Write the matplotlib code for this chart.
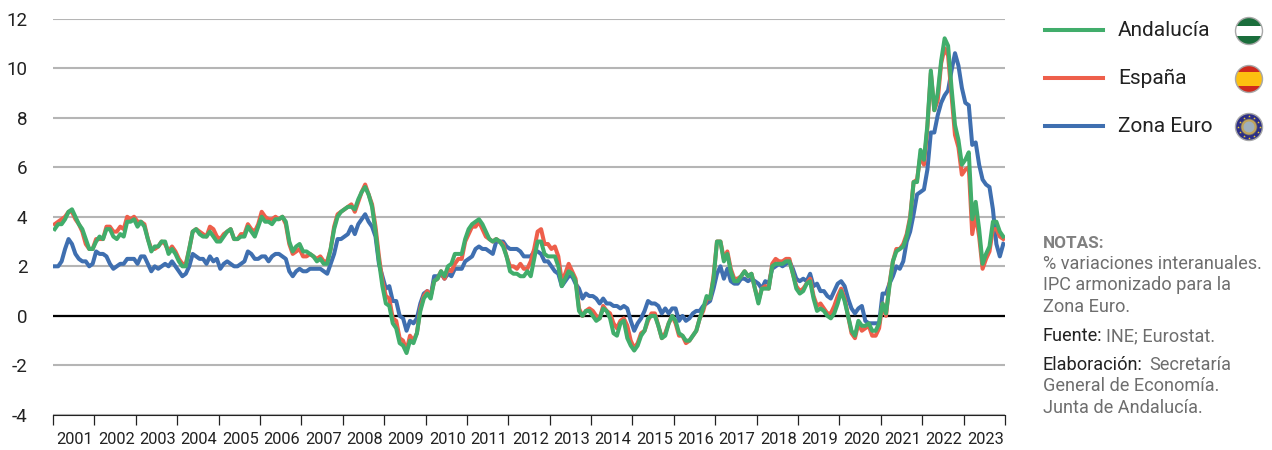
import matplotlib
matplotlib.use('Agg')
import matplotlib.pyplot as plt
import numpy as np
from matplotlib.patches import Circle, Rectangle

plt.rcParams['font.family'] = ['Roboto', 'DejaVu Sans']

years = list(range(2001, 2024))

andalucia = [
    3.5, 3.7, 3.7, 3.9, 4.2, 4.3, 4.0, 3.7, 3.5, 3.1, 2.7, 2.7,
    3.0, 3.2, 3.1, 3.5, 3.5, 3.2, 3.1, 3.3, 3.2, 3.8, 3.8, 3.9,
    3.6, 3.8, 3.6, 3.1, 2.6, 2.8, 2.8, 3.0, 3.0, 2.5, 2.7, 2.5,
    2.2, 2.0, 2.0, 2.7, 3.4, 3.5, 3.3, 3.2, 3.2, 3.4, 3.2, 3.0,
    3.0, 3.2, 3.4, 3.5, 3.1, 3.1, 3.2, 3.2, 3.6, 3.4, 3.2, 3.6,
    4.0, 3.8, 3.8, 3.7, 3.9, 3.9, 4.0, 3.8, 3.0, 2.6, 2.8, 2.9,
    2.6, 2.6, 2.5, 2.4, 2.2, 2.3, 2.1, 2.1, 2.7, 3.5, 4.0, 4.2,
    4.3, 4.4, 4.4, 4.3, 4.7, 5.0, 5.2, 4.9, 4.4, 3.4, 2.2, 1.2,
    0.5, 0.4, -0.3, -0.5, -1.1, -1.2, -1.5, -1.0, -1.1, -0.7, 0.2, 0.7,
    0.9, 0.7, 1.4, 1.5, 1.8, 1.6, 2.0, 2.1, 2.5, 2.5, 2.5, 3.1,
    3.5, 3.7, 3.8, 3.9, 3.7, 3.4, 3.1, 3.0, 3.1, 3.0, 2.8, 2.4,
    1.8, 1.7, 1.7, 1.6, 1.6, 1.8, 1.6, 2.3, 3.0, 3.0, 2.5, 2.4,
    2.4, 2.4, 2.0, 1.2, 1.5, 1.8, 1.7, 1.4, 0.2, 0.0, 0.2, 0.2,
    0.0, -0.2, -0.1, 0.3, 0.2, -0.1, -0.7, -0.8, -0.3, -0.2, -0.9, -1.2,
    -1.4, -1.2, -0.8, -0.6, -0.1, 0.0, 0.0, -0.4, -0.9, -0.8, -0.3, 0.0,
    -0.2, -0.7, -0.8, -1.0, -1.0, -0.8, -0.6, -0.1, 0.3, 0.8, 0.7, 1.5,
    3.0, 3.0, 2.2, 2.5, 1.8, 1.4, 1.4, 1.6, 1.8, 1.6, 1.7, 1.1,
    0.5, 1.1, 1.1, 1.1, 2.0, 2.1, 2.1, 2.1, 2.2, 2.2, 1.7, 1.1,
    0.9, 1.0, 1.3, 1.4, 0.7, 0.2, 0.3, 0.2, 0.0, -0.1, 0.1, 0.5,
    1.0, 0.6, 0.0, -0.6, -0.8, -0.2, -0.4, -0.4, -0.3, -0.6, -0.6, -0.3,
    0.5, 0.1, 1.2, 2.2, 2.6, 2.7, 2.8, 3.2, 3.9, 5.4, 5.4, 6.7,
    6.3, 7.7, 9.9, 8.3, 9.0, 10.3, 11.2, 10.9, 9.2, 7.7, 7.1, 6.1,
    6.3, 6.6, 3.9, 4.6, 3.5, 2.1, 2.5, 2.8, 3.8, 3.8, 3.4, 3.2,
]

espana = [
    3.7, 3.8, 3.9, 4.0, 4.2, 4.2, 3.9, 3.7, 3.4, 2.9, 2.7, 2.7,
    3.1, 3.1, 3.1, 3.6, 3.6, 3.4, 3.4, 3.6, 3.5, 4.0, 3.9, 4.0,
    3.8, 3.8, 3.7, 3.1, 2.7, 2.7, 2.8, 3.0, 2.9, 2.6, 2.8, 2.6,
    2.3, 2.1, 2.1, 2.7, 3.4, 3.5, 3.4, 3.3, 3.2, 3.6, 3.5, 3.2,
    3.1, 3.3, 3.4, 3.5, 3.1, 3.1, 3.3, 3.3, 3.7, 3.5, 3.4, 3.7,
    4.2, 4.0, 3.9, 3.9, 4.0, 3.9, 4.0, 3.7, 2.9, 2.5, 2.6, 2.7,
    2.4, 2.4, 2.5, 2.4, 2.3, 2.4, 2.2, 2.2, 2.7, 3.6, 4.1, 4.2,
    4.3, 4.4, 4.5, 4.2, 4.6, 5.0, 5.3, 4.9, 4.5, 3.6, 2.4, 1.4,
    0.8, 0.7, -0.1, -0.2, -0.9, -1.0, -1.4, -0.8, -1.0, -0.7, 0.3, 0.8,
    1.0, 0.8, 1.4, 1.5, 1.8, 1.5, 1.9, 1.8, 2.1, 2.3, 2.3, 3.0,
    3.3, 3.6, 3.6, 3.8, 3.5, 3.2, 3.1, 3.0, 3.1, 3.0, 2.9, 2.4,
    2.0, 2.0, 1.9, 2.1, 1.9, 1.9, 2.2, 2.7, 3.4, 3.5, 2.9, 2.9,
    2.7, 2.8, 2.4, 1.4, 1.7, 2.1, 1.8, 1.5, 0.3, 0.0, 0.2, 0.3,
    0.2, 0.0, -0.1, 0.4, 0.2, 0.1, -0.3, -0.5, -0.2, -0.1, -0.4, -1.0,
    -1.3, -1.1, -0.7, -0.6, -0.2, 0.1, 0.1, -0.4, -0.9, -0.7, -0.3, 0.0,
    -0.3, -0.8, -0.8, -1.1, -1.0, -0.8, -0.6, -0.1, 0.2, 0.7, 0.7, 1.6,
    3.0, 3.0, 2.3, 2.6, 1.9, 1.5, 1.5, 1.6, 1.8, 1.6, 1.7, 1.1,
    0.6, 1.1, 1.2, 1.1, 2.1, 2.3, 2.2, 2.2, 2.3, 2.3, 1.7, 1.2,
    1.0, 1.1, 1.3, 1.5, 0.8, 0.4, 0.5, 0.3, 0.1, 0.1, 0.4, 0.8,
    1.1, 0.7, 0.0, -0.7, -0.9, -0.3, -0.6, -0.5, -0.4, -0.8, -0.8, -0.5,
    0.5, 0.0, 1.3, 2.2, 2.7, 2.7, 2.9, 3.3, 4.0, 5.4, 5.5, 6.5,
    6.1, 7.6, 9.8, 8.3, 8.7, 10.2, 10.8, 10.5, 8.9, 7.3, 6.8, 5.7,
    5.9, 6.0, 3.3, 4.1, 3.2, 1.9, 2.3, 2.6, 3.5, 3.5, 3.2, 3.1,
]

zona_euro = [
    2.0, 2.0, 2.2, 2.7, 3.1, 2.9, 2.5, 2.3, 2.2, 2.2, 2.0, 2.1,
    2.6, 2.5, 2.5, 2.4, 2.1, 1.9, 2.0, 2.1, 2.1, 2.3, 2.3, 2.3,
    2.1, 2.4, 2.4, 2.1, 1.8, 2.0, 1.9, 2.0, 2.1, 2.0, 2.2, 2.0,
    1.8, 1.6, 1.7, 2.0, 2.5, 2.4, 2.3, 2.3, 2.1, 2.4, 2.2, 2.3,
    1.9, 2.1, 2.2, 2.1, 2.0, 2.0, 2.1, 2.2, 2.6, 2.5, 2.3, 2.3,
    2.4, 2.4, 2.2, 2.4, 2.5, 2.5, 2.4, 2.3, 1.8, 1.6, 1.8, 1.9,
    1.8, 1.8, 1.9, 1.9, 1.9, 1.9, 1.8, 1.7, 2.1, 2.5, 3.1, 3.1,
    3.2, 3.3, 3.6, 3.3, 3.7, 3.9, 4.1, 3.8, 3.6, 3.2, 2.1, 1.6,
    1.1, 1.2, 0.6, 0.6, 0.0, -0.1, -0.6, -0.2, -0.3, -0.1, 0.5, 0.9,
    1.0, 0.8, 1.6, 1.6, 1.7, 1.5, 1.7, 1.6, 1.9, 1.9, 1.9, 2.2,
    2.3, 2.4, 2.7, 2.8, 2.7, 2.7, 2.6, 2.5, 3.0, 3.0, 3.0, 2.8,
    2.7, 2.7, 2.7, 2.6, 2.4, 2.4, 2.4, 2.6, 2.6, 2.5, 2.2, 2.2,
    2.0, 1.8, 1.7, 1.2, 1.4, 1.6, 1.6, 1.3, 1.1, 0.7, 0.9, 0.8,
    0.8, 0.7, 0.5, 0.7, 0.5, 0.5, 0.4, 0.4, 0.3, 0.4, 0.3, -0.2,
    -0.6, -0.3, -0.1, 0.2, 0.6, 0.5, 0.5, 0.4, 0.1, 0.3, 0.1, 0.3,
    0.3, -0.2, 0.0, -0.2, -0.1, 0.1, 0.2, 0.2, 0.4, 0.5, 0.6, 1.1,
    1.7, 2.0, 1.5, 1.9, 1.4, 1.3, 1.3, 1.5, 1.5, 1.4, 1.5, 1.4,
    1.3, 1.1, 1.4, 1.3, 1.9, 2.0, 2.1, 2.0, 2.1, 2.2, 1.9, 1.5,
    1.4, 1.5, 1.4, 1.7, 1.2, 1.3, 1.0, 1.0, 0.8, 0.7, 1.0, 1.3,
    1.4, 1.2, 0.7, 0.3, 0.1, 0.3, 0.4, -0.2, -0.3, -0.3, -0.3, -0.3,
    0.9, 0.9, 1.3, 1.6, 2.0, 1.9, 2.2, 3.0, 3.4, 4.1, 4.9, 5.0,
    5.1, 5.9, 7.4, 7.4, 8.1, 8.6, 8.9, 9.1, 9.9, 10.6, 10.1, 9.2,
    8.6, 8.5, 6.9, 7.0, 6.1, 5.5, 5.3, 5.2, 4.3, 2.9, 2.4, 2.9,
]

green = '#41ad6b'
red = '#ee5f4b'
blue = '#3f6fb0'

W, H = 1272, 450


def fx(px):
    return px / W


def fy(py):
    return 1 - py / H


fig = plt.figure(figsize=(W / 100, H / 100), dpi=100)
ax = fig.add_axes([fx(53), fy(415), (1005 - 53) / W, (415 - 18.5) / H])

x = np.arange(len(andalucia)) + 0.5
ax.plot(x, zona_euro, color=blue, lw=2.9, zorder=3, solid_joinstyle='round')
ax.plot(x, espana, color=red, lw=2.9, zorder=4, solid_joinstyle='round')
ax.plot(x, andalucia, color=green, lw=2.9, zorder=5, solid_joinstyle='round')

ax.set_xlim(0, len(andalucia))
ax.set_ylim(-4, 12)
ax.set_yticks(range(-4, 13, 2))
ax.set_yticklabels([str(v) for v in range(-4, 13, 2)], fontsize=13.5, color='#222222')
ax.tick_params(axis='y', length=0, pad=18.5)
ax.grid(axis='y', color='#b5b5b5', lw=1.5)
ax.set_axisbelow(True)
ax.axhline(0, color='black', lw=1.6, zorder=2.5)

for s in ['top', 'left', 'right']:
    ax.spines[s].set_visible(False)
ax.spines['bottom'].set_color('#222222')
ax.spines['bottom'].set_linewidth(0.8)

ax.set_xticks(np.arange(0, len(andalucia) + 1, 12))
ax.set_xticklabels([])
ax.set_xticks(np.arange(6, len(andalucia), 12) + 0.35, minor=True)
ax.set_xticklabels([str(y) for y in years], minor=True, fontsize=11.8, color='#222222')
ax.tick_params(axis='x', which='major', length=7, width=0.9, color='#222222')
ax.tick_params(axis='x', which='minor', length=0, pad=12)

# leyenda
legend_items = [('Andalucía', green, 30), ('España', red, 78), ('Zona Euro', blue, 126)]
for name, col, py in legend_items:
    fig.add_artist(plt.Line2D([fx(1045), fx(1103)], [fy(py), fy(py)], color=col, lw=2.9,
                              transform=fig.transFigure))
    fig.text(fx(1118), fy(py + 0.5), name, fontsize=15, color='#222222', va='center', ha='left')

# banderas
iconax = fig.add_axes([0, 0, 1, 1], facecolor='none')
iconax.set_xlim(0, W)
iconax.set_ylim(H, 0)
iconax.axis('off')


def flag(cy, colors, bands):
    clip = Circle((1249, cy), 13.5, transform=iconax.transData)
    top = cy - 13.5
    for col, h in zip(colors, bands):
        r = Rectangle((1235, top), 28, h, color=col, lw=0)
        iconax.add_patch(r)
        r.set_clip_path(clip)
        top += h
    iconax.add_patch(Circle((1249, cy), 13.5, fill=False, ec='#a8a8a8', lw=1))


flag(31, ['#1b6e3c', '#ffffff', '#1b6e3c'], [8.7, 9.6, 8.7])
flag(79, ['#cf2a1e', '#fdc010', '#cf2a1e'], [6.7, 13.6, 6.7])
iconax.add_patch(Circle((1249, 127), 13.5, fc='#2d2f86', ec='#a8a8a8', lw=1))
iconax.add_patch(Circle((1249, 127), 8, fc='#c2a45a', ec='#6a6a6a', lw=0.5))
iconax.add_patch(Circle((1249, 127), 5.5, fc='#9fb0bd', ec='none'))
ang = np.linspace(0, 2 * np.pi, 12, endpoint=False)
iconax.scatter(1249 + 10.7 * np.cos(ang), 127 + 10.7 * np.sin(ang), s=4, color='#f2d230', marker='*', lw=0)

# notas
grey = '#6e6e6e'
dark = '#222222'
fs = 13.1
fig.text(fx(1043), fy(243), 'NOTAS:', fontsize=fs - 0.8, fontweight='bold', color='#808080', va='center')
fig.text(fx(1043), fy(264), '% variaciones interanuales.', fontsize=fs, color=grey, va='center')
fig.text(fx(1043), fy(285), 'IPC armonizado para la', fontsize=fs, color=grey, va='center')
fig.text(fx(1043), fy(307), 'Zona Euro.', fontsize=fs, color=grey, va='center')
fig.text(fx(1043), fy(336), 'Fuente:', fontsize=fs, color=dark, va='center')
fig.text(fx(1106), fy(336), 'INE; Eurostat.', fontsize=fs, color=grey, va='center')
fig.text(fx(1043), fy(365), 'Elaboración:', fontsize=fs, color=dark, va='center')
fig.text(fx(1149), fy(365), 'Secretaría', fontsize=fs, color=grey, va='center')
fig.text(fx(1043), fy(386), 'General de Economía.', fontsize=fs, color=grey, va='center')
fig.text(fx(1043), fy(408), 'Junta de Andalucía.', fontsize=fs, color=grey, va='center')

fig.savefig('out.png', dpi=100)
